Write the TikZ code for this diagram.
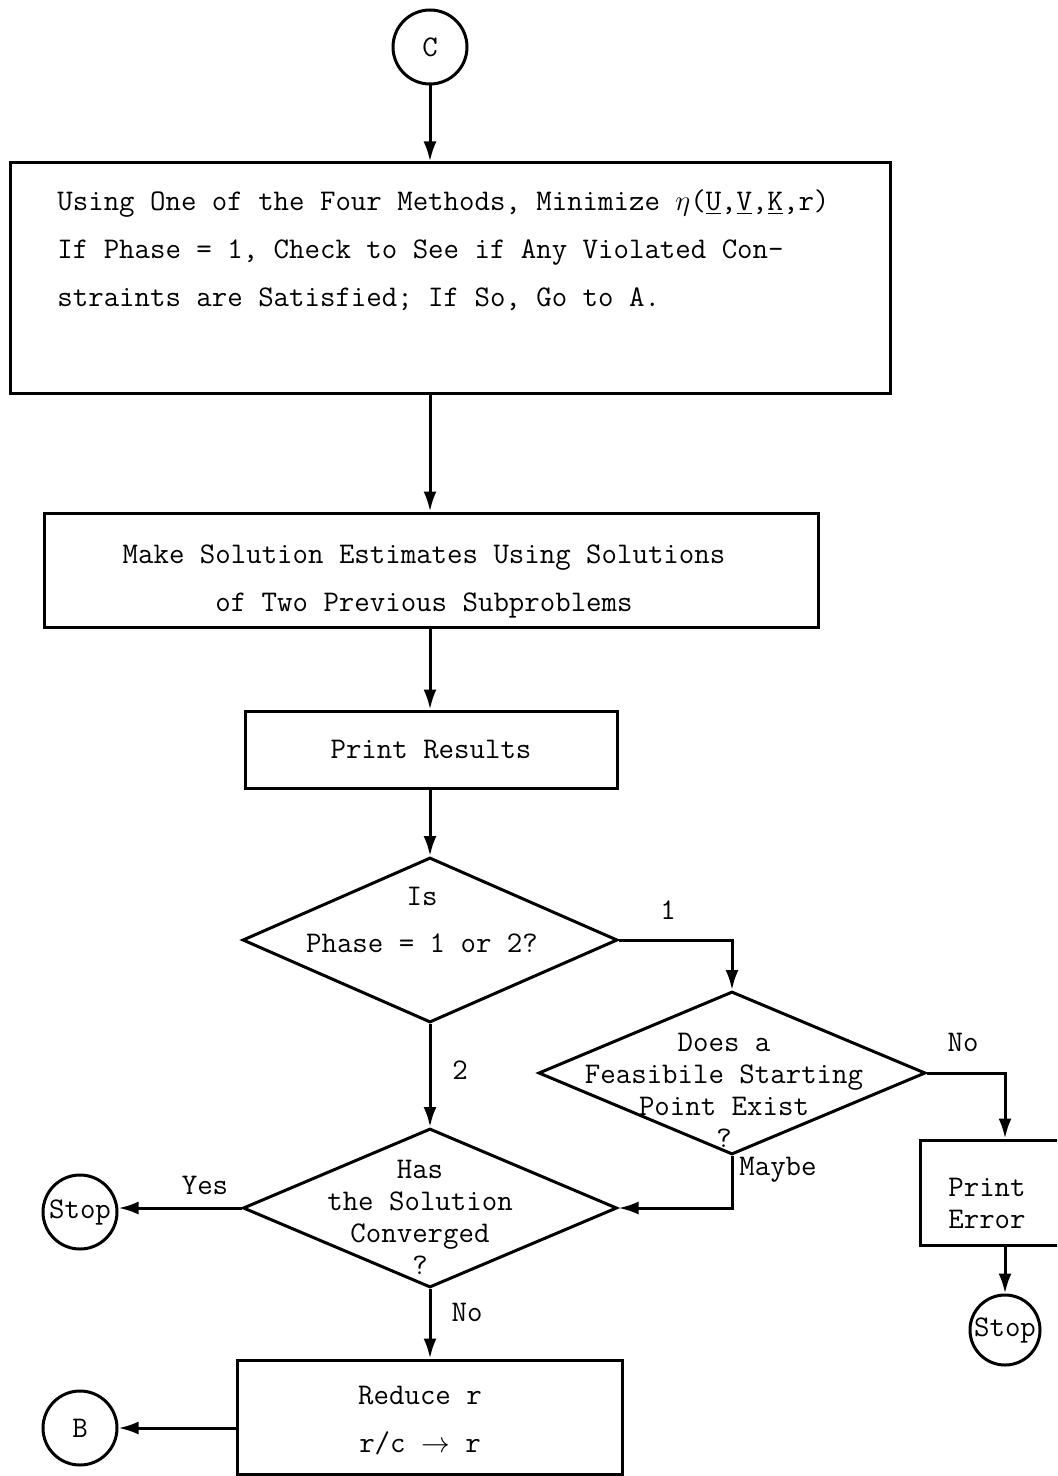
\documentclass[tikz,border=0pt]{standalone}
\usetikzlibrary{shapes.geometric,arrows.meta}
\begin{document}
\begin{tikzpicture}[x=0.5pt,y=-0.5pt,
  every node/.style={font=\ttfamily\fontsize{15}{16}\selectfont, inner sep=0pt},
  wide/.style={font=\ttfamily\fontsize{15}{24}\selectfont},
  arr/.style={line width=1.5pt, -{Latex[length=10pt,width=6.5pt]}},
  procbox/.style={draw, line width=1.5pt, rectangle},
  decision/.style={draw, line width=1.5pt, diamond},
  term/.style={draw, line width=1.5pt, circle, minimum size=37pt}]
\useasboundingbox (0,0) rectangle (1057,1476);
\clip (0,0) rectangle (1057,1476);

% connectors and terminals
\node[term] (C) at (430,47) {C};
\node[term] (stopA) at (80,1212) {Stop};
\node[term] (B) at (80,1428) {B};
\node[term, minimum size=35pt] (stopB) at (1005,1330) {Stop};

% process boxes
\node[procbox, minimum width=440pt, minimum height=115pt] (b1) at (450,278) {};
\node[wide, anchor=west, align=left] (b1t) at (57,250)
  {Using One of the Four Methods, Minimize $\eta$(\underline{U},\underline{V},\underline{K},r)\\
   If Phase = 1, Check to See if Any Violated Con-\\
   straints are Satisfied; If So, Go to A.};

\node[procbox, minimum width=387pt, minimum height=57pt] (b2) at (431,570) {};
\node[wide, align=center] (b2t) at (424,581)
  {Make Solution Estimates Using Solutions\\of Two Previous Subproblems};

\node[procbox, minimum width=186pt, minimum height=38.5pt] (b3) at (431,749.5) {Print Results};

\node[procbox, minimum width=192.5pt, minimum height=57pt] (b4) at (429.5,1417) {};
\node[wide, align=center] (b4t) at (420,1421) {Reduce r\\r/c $\rightarrow$ r};

\node[procbox, minimum width=85pt, minimum height=52.5pt] (pe) at (1005,1192.5) {};
\node[align=left] (pet) at (987,1203) {Print\\Error};

% decisions
\node[decision, minimum width=187.5pt, minimum height=82.5pt] (d1) at (430,940) {};
\node[align=center, font=\ttfamily\fontsize{15}{23.5}\selectfont] (d1t) at (422,920) {Is\\Phase = 1 or 2?};

\node[decision, minimum width=193.5pt, minimum height=81.5pt] (d2) at (732,1073) {};
\node[align=center] (d2t) at (724,1090) {Does a\\Feasibile Starting\\Point Exist\\?};

\node[decision, minimum width=187pt, minimum height=79.5pt] (d3) at (430,1208) {};
\node[align=center] (d3t) at (420,1217) {Has\\the Solution\\Converged\\?};

% flow
\draw[arr] (C) -- (C |- b1.north);
\draw[arr] (b1.south -| C) -- (b2.north -| C);
\draw[arr] (b2.south -| C) -- (b3.north -| C);
\draw[arr] (b3.south -| C) -- (d1.north);
\draw[arr] (d1.east) -| (d2.north);
\draw[arr] (d1.south) -- (d3.north);
\draw[arr] (d2.east) -| (pe.north);
\draw[arr] (d2.south) |- (d3.east);
\draw[arr] (d3.west) -- (d3.west -| stopA.east);
\draw[arr] (d3.south) -- (d3.south |- b4.north);
\draw[arr] (b4.west |- B) -- (B.east);
\draw[arr] (pe.south) -- (stopB.north);

% branch labels
\node (l1) at (668,910) {1};
\node (l2) at (460,1070) {2};
\node (lno1) at (963,1042) {No};
\node (lmay) at (778,1170) {Maybe};
\node (lyes) at (205,1185) {Yes};
\node (lno2) at (467,1312) {No};
\end{tikzpicture}
\end{document}
